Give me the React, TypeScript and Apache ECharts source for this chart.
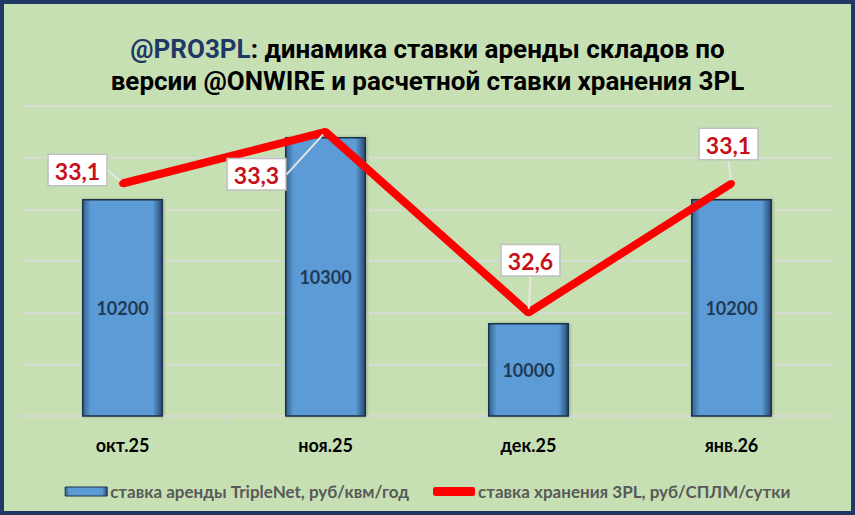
import React, { useEffect, useRef } from "react";
import * as echarts from "echarts";

const categories = ["окт.25", "ноя.25", "дек.25", "янв.26"];
const rentValues = [10200, 10300, 10000, 10200];
const storageValues = [33.1, 33.3, 32.6, 33.1];
const rentName = "ставка аренды TripleNet, руб/квм/год";
const storageName = "ставка хранения 3PL, руб/СПЛМ/сутки";

// label offsets (layout only)
const labelShift = [
  [-45, 10],
  [-69, 66],
  [2, -29],
  [-3, -16],
];

export default function App() {
  const ref = useRef<HTMLDivElement>(null);
  useEffect(() => {
    if (!ref.current) return;
    const chart = echarts.init(ref.current, undefined, { renderer: "svg" });
    const barGradient = new echarts.graphic.LinearGradient(0, 0, 1, 0, [
      { offset: 0, color: "#35618C" },
      { offset: 0.1, color: "#5B9BD5" },
      { offset: 0.88, color: "#5B9BD5" },
      { offset: 1, color: "#2A4A6E" },
    ]);
    chart.setOption({
      animation: false,
      backgroundColor: "#C6E0B4",
      title: {
        left: "center",
        top: 28,
        text:
          "{a|@PRO3PL}{b|: динамика ставки аренды складов по}\n{b|версии @ONWIRE и расчетной ставки хранения 3PL}",
        textStyle: {
          rich: {
            a: { color: "#1F3864", fontFamily: "Roboto", fontWeight: "bold", fontSize: 26, lineHeight: 32 },
            b: { color: "#000000", fontFamily: "Roboto", fontWeight: "bold", fontSize: 26, lineHeight: 32 },
          },
        },
      },
      graphic: [
        {
          type: "rect",
          shape: { x: 2, y: 2, width: 851, height: 511 },
          style: { fill: "none", stroke: "#1F3864", lineWidth: 4 },
          z: 100,
        },
      ],
      legend: {
        left: "center",
        top: 478,
        itemWidth: 42,
        itemHeight: 9,
        itemGap: 24,
        textStyle: { color: "#595959", fontFamily: "Lato", fontSize: 17, fontWeight: "bold", padding: [0, 0, 0, -2] },
        data: [
          { name: rentName, icon: "rect", itemStyle: { color: barGradient, borderColor: "#1C3048", borderWidth: 1 } },
          { name: storageName, icon: "roundRect", itemStyle: { color: "#FF0000" } },
        ],
      },
      grid: { left: 21, right: 22, top: 106, bottom: 99 },
      xAxis: {
        type: "category",
        data: categories,
        axisLine: { lineStyle: { color: "#D9D9D9", width: 1.5 } },
        axisTick: { show: true, length: 5, lineStyle: { color: "#D9D9D9" } },
        axisLabel: { color: "#000", fontFamily: "Lato", fontWeight: "bold", fontSize: 18, margin: 20 },
      },
      yAxis: [
        {
          type: "value",
          min: 9850,
          max: 10350,
          axisLine: { show: false },
          axisTick: { show: false },
          axisLabel: { show: false },
          splitLine: { show: false },
        },
        {
          type: "value",
          min: 32.2,
          max: 33.4,
          interval: 0.2,
          axisLine: { show: false },
          axisTick: { show: false },
          axisLabel: { show: false },
          splitLine: { show: true, lineStyle: { color: "#DADADA", width: 1.5 } },
        },
      ],
      series: [
        {
          name: rentName,
          type: "bar",
          yAxisIndex: 0,
          data: rentValues,
          barWidth: 81,
          itemStyle: {
            color: barGradient,
            borderColor: "#1C3048",
            borderWidth: 1.5,
            shadowColor: "rgba(0,0,0,0.25)",
            shadowBlur: 3,
            shadowOffsetX: 1,
          },
          label: {
            show: true,
            position: "inside",
            color: "#1F3A55",
            fontFamily: "Lato",
            fontWeight: "bold",
            fontSize: 18,
          },
          z: 2,
        },
        {
          name: storageName,
          type: "line",
          yAxisIndex: 1,
          data: storageValues,
          symbol: "circle",
          symbolSize: 7,
          showSymbol: true,
          lineStyle: { color: "#FF0000", width: 8 },
          itemStyle: { color: "#FF0000" },
          z: 5,
          label: {
            show: true,
            position: "top",
            formatter: (p: any) => String(p.value).replace(".", ","),
            color: "#C8101A",
            fontFamily: "Lato",
            fontWeight: "bold",
            fontSize: 23,
            backgroundColor: "#FFFFFF",
            borderColor: "#BFBFBF",
            borderWidth: 1.5,
            padding: [4, 6, 3, 6],
          },
          labelLine: { show: true, lineStyle: { color: "#E6E6E6", width: 2 } },
          labelLayout: (params: any) => ({
            dx: labelShift[params.dataIndex][0],
            dy: labelShift[params.dataIndex][1],
          }),
        },
      ],
    });
    return () => chart.dispose();
  }, []);
  return (
    <div
      ref={ref}
      style={{ position: "fixed", left: 0, top: 0, width: 855, height: 515 }}
    />
  );
}
